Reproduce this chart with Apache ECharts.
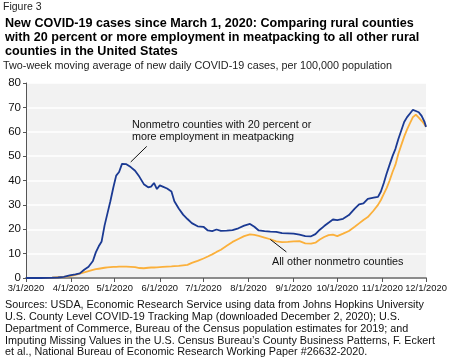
<!DOCTYPE html>
<html><head><meta charset="utf-8">
<script src="https://cdn.jsdelivr.net/npm/echarts@6/dist/echarts.min.js"></script>
<style>html,body{margin:0;padding:0;background:#fff}#c{width:450px;height:359px}</style>
</head><body><div id="c"></div>
<script>
const dates = ['2020-03-01','2020-03-11','2020-03-19','2020-03-23','2020-03-27','2020-03-31','2020-04-04','2020-04-07','2020-04-10','2020-04-13','2020-04-16','2020-04-18','2020-04-20','2020-04-22','2020-04-24','2020-04-26','2020-04-28','2020-04-30','2020-05-02','2020-05-04','2020-05-06','2020-05-09','2020-05-12','2020-05-15','2020-05-18','2020-05-21','2020-05-24','2020-05-26','2020-05-28','2020-05-30','2020-06-01','2020-06-03','2020-06-06','2020-06-09','2020-06-11','2020-06-14','2020-06-17','2020-06-20','2020-06-23','2020-06-27','2020-07-01','2020-07-04','2020-07-07','2020-07-10','2020-07-13','2020-07-17','2020-07-21','2020-07-25','2020-07-29','2020-08-02','2020-08-05','2020-08-08','2020-08-12','2020-08-16','2020-08-20','2020-08-24','2020-08-28','2020-09-01','2020-09-05','2020-09-09','2020-09-13','2020-09-16','2020-09-19','2020-09-22','2020-09-25','2020-09-28','2020-10-01','2020-10-05','2020-10-09','2020-10-13','2020-10-16','2020-10-19','2020-10-22','2020-10-26','2020-10-29','2020-10-31','2020-11-02','2020-11-04','2020-11-06','2020-11-08','2020-11-10','2020-11-12','2020-11-14','2020-11-16','2020-11-18','2020-11-20','2020-11-22','2020-11-24','2020-11-26','2020-11-28','2020-11-30','2020-12-01'];
const meatpacking = [0,0,0.1,0.2,0.5,1.1,1.5,1.9,3.4,4.6,7.0,10.5,13.0,15.0,21.5,26.5,31.5,37,42,43.5,46.8,46.7,45.5,44,41.5,38.5,37.2,37.5,39,36.5,38,37.5,36.7,35.5,31.5,28.5,26,24.2,22.5,21.2,21,19.5,19.2,19.9,19.3,19.4,19.6,20.4,21.5,22.2,21,19.5,19.2,19.0,18.9,18.4,18.3,18.2,17.8,17.2,17.1,18.0,19.8,21.3,22.7,24.0,23.7,24.3,25.8,28.5,30.2,30.6,32.5,33.0,33.3,35.5,39,43,46.5,50,53,57,60.5,64,66,67.5,69,68.5,68,66.5,64,62];
const otherNonmetro = [0,0,0.1,0.3,0.5,0.8,1.3,1.8,2.3,2.8,3.3,3.6,3.8,4.0,4.2,4.4,4.5,4.6,4.6,4.7,4.7,4.7,4.6,4.5,4.1,4.0,4.2,4.3,4.3,4.4,4.5,4.6,4.7,4.8,4.9,5.0,5.2,5.4,6.2,7.0,8.0,8.8,9.7,10.7,11.6,13.2,14.8,16.0,17.2,17.9,17.7,17.3,16.6,15.9,15.0,14.7,14.8,15.0,15.1,14.2,14.1,14.5,15.8,16.8,17.6,17.8,17.2,18.2,19.3,21,22.4,23.8,25,27.7,30,32,34.5,37,40,43.5,46.5,51,54.5,58,61,63.5,66,67,65.8,64.5,63,62];
const xTickLabels = ['3/1/2020','4/1/2020','5/1/2020','6/1/2020','7/1/2020','8/1/2020','9/1/2020','10/1/2020','11/1/2020','12/1/2020'];
const titleLines = ['New COVID-19 cases since March 1, 2020: Comparing rural counties','with 20 percent or more employment in meatpacking to all other rural','counties in the United States'];
const subtitle = 'Two-week moving average of new daily COVID-19 cases, per 100,000 population';
const sourceLines = ['Sources: USDA, Economic Research Service using data from Johns Hopkins University','U.S. County Level COVID-19 Tracking Map (downloaded December 2, 2020); U.S.','Department of Commerce, Bureau of the Census population estimates for 2019; and','Imputing Missing Values in the U.S. Census Bureau\u2019s County Business Patterns, F. Eckert','et al., National Bureau of Economic Research Working Paper #26632-2020.'];
const labelMeat = ['Nonmetro counties with 20 percent or','more employment in meatpacking'];
const labelOther = 'All other nonmetro counties';
const leaderMeat = [['2020-05-23',54.0],['2020-05-12',47.6]];
const leaderOther = [['2020-08-16',15.8],['2020-08-27',10.7]];

const FONT = 'Liberation Sans, Arial, sans-serif';
const ORIGIN = Date.UTC(2020,2,1);
const isoDay = (s) => { const p = s.split('-').map(Number); return (Date.UTC(p[0],p[1]-1,p[2]) - ORIGIN)/864e5; };
const mdyDay = (s) => { const p = s.split('/').map(Number); return (Date.UTC(p[2],p[0]-1,p[1]) - ORIGIN)/864e5; };
const tickDays = xTickLabels.map(mdyDay);
const labelByDay = {}; xTickLabels.forEach((l,i)=>labelByDay[tickDays[i]] = l);
const toPairs = (vals) => dates.map((d,i)=>[isoDay(d), vals[i]]);
const leaderCoords = (ld) => ld.map(p=>({coord:[isoDay(p[0]), p[1]]}));

const chart = echarts.init(document.getElementById('c'), null, {renderer:'canvas'});
const graphics = [];
graphics.push({type:'text', left:3, top:2, style:{text:'Figure 3', font:'10.5px '+FONT, fill:'#222'}});
titleLines.forEach((t,i)=>graphics.push({type:'text', left:5, top:17+i*14, style:{text:t, font:'bold 12.6px '+FONT, fill:'#000'}}));
graphics.push({type:'text', left:3, top:60.5, style:{text:subtitle, font:'10.8px '+FONT, fill:'#222'}});
sourceLines.forEach((t,i)=>graphics.push({type:'text', left:5, top:300+i*11.75, style:{text:t, font:'10.8px '+FONT, fill:'#111'}}));
labelMeat.forEach((t,i)=>graphics.push({type:'text', left:132, top:120+i*12, style:{text:t, font:'10.8px '+FONT, fill:'#111'}}));
graphics.push({type:'text', left:272, top:257, style:{text:labelOther, font:'10.8px '+FONT, fill:'#111'}});

chart.setOption({
  animation:false,
  graphic: graphics,
  grid:{left:26, right:24, top:83, bottom:81, show:true, backgroundColor:'#f2f2f2', borderWidth:0},
  xAxis:{type:'value', min:tickDays[0], max:tickDays[tickDays.length-1],
    axisLine:{lineStyle:{color:'#8c8c8c', width:2}},
    axisTick:{show:true, length:4, lineStyle:{color:'#555'}, customValues:tickDays},
    splitLine:{show:false},
    axisLabel:{customValues:tickDays, formatter:(v)=>labelByDay[v] || '', color:'#111', fontSize:9.4, fontFamily:FONT, margin:6, hideOverlap:false, showMinLabel:true, showMaxLabel:true}
  },
  yAxis:{type:'value', min:0, max:80, interval:10,
    axisLine:{show:true, lineStyle:{color:'#555', width:1}},
    axisTick:{show:true, length:3, lineStyle:{color:'#555'}},
    splitLine:{lineStyle:{color:'#ffffff', width:1.5}},
    axisLabel:{color:'#111', fontSize:11.5, fontFamily:FONT, margin:5}
  },
  series:[
    {name:'All other nonmetro counties', type:'line', data:toPairs(otherNonmetro), showSymbol:false, lineStyle:{color:'#fbb03b', width:1.8}, itemStyle:{color:'#fbb03b'},
      markLine:{silent:true, symbol:'none', label:{show:false}, lineStyle:{color:'#111', width:1, type:'solid'}, data:[leaderCoords(leaderOther)]}},
    {name:'Nonmetro counties with 20 percent or more employment in meatpacking', type:'line', data:toPairs(meatpacking), showSymbol:false, lineStyle:{color:'#1b3a93', width:1.8}, itemStyle:{color:'#1b3a93'},
      markLine:{silent:true, symbol:'none', label:{show:false}, lineStyle:{color:'#111', width:1, type:'solid'}, data:[leaderCoords(leaderMeat)]}}
  ]
});
</script></body></html>
